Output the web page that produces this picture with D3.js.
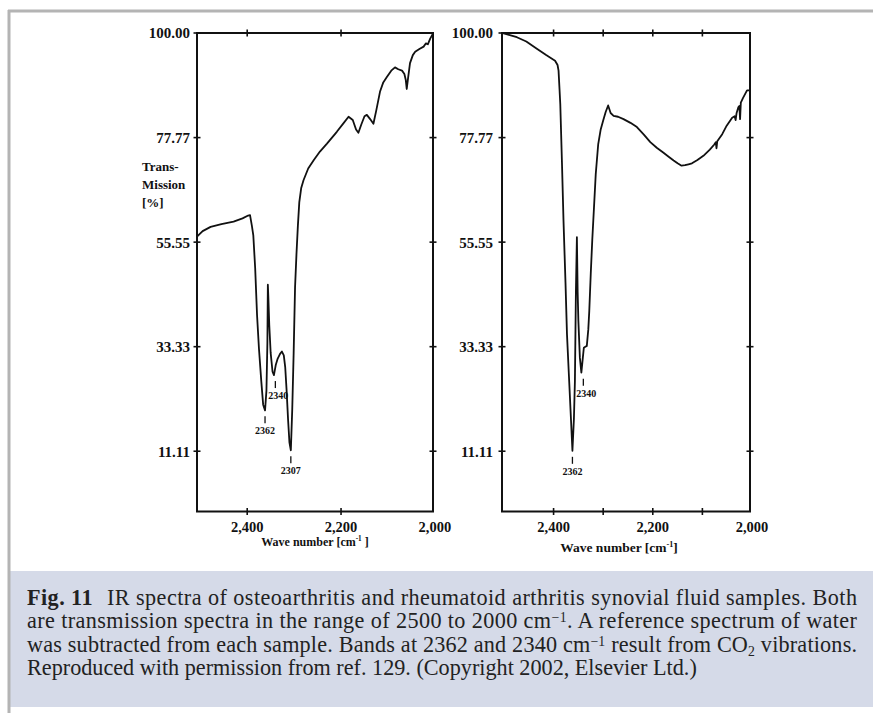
<!DOCTYPE html>
<html>
<head>
<meta charset="utf-8">
<script src="https://cdn.jsdelivr.net/npm/d3@7.9.0/dist/d3.min.js"></script>
<style>
  html, body { margin: 0; padding: 0; background: #fff; }
  svg { display: block; }
  .tick-label { font-family: "Liberation Serif", "Times New Roman", serif; font-weight: bold; fill: #111; }
</style>
</head>
<body>
<svg id="chart" width="873" height="713"></svg>
<script>
// left spectrum (osteoarthritis) - wave number / transmission %
const leftWave = [2507, 2495, 2478, 2455, 2429, 2410, 2398, 2394, 2390, 2387, 2383, 2379, 2375, 2370, 2366, 2362,
  2359, 2357, 2356, 2355, 2353, 2350, 2346, 2343, 2339, 2335, 2330, 2326, 2322, 2319, 2316, 2313, 2310, 2307,
  2304, 2301, 2298, 2295, 2292, 2289, 2285, 2280, 2270, 2258, 2245, 2230, 2209, 2195, 2184, 2175, 2168, 2163,
  2157, 2150, 2145, 2138, 2131, 2125, 2117, 2110, 2102, 2093, 2085, 2078, 2070, 2065, 2062, 2060, 2057, 2053,
  2047, 2042, 2033, 2024, 2019, 2015, 2010, 2005, 2004];
const leftTrans = [56.7, 57.9, 58.8, 59.4, 59.9, 60.6, 61.2, 61.3, 59, 57, 50, 40, 33, 26, 21, 19.8,
  24, 34, 46.5, 44, 38, 32, 28, 27.3, 29.5, 30.8, 31.8, 32.3, 31.5, 29, 24, 18, 13, 11.3,
  20, 32, 46, 53, 59, 64, 67, 68.7, 71.2, 73, 74.8, 76.5, 79, 80.8, 82.2, 81.5, 79.5, 78.8,
  80.5, 82.3, 82.6, 81.7, 80.7, 83.5, 87.5, 89.5, 90.7, 92, 92.7, 92.3, 92, 91.3, 90, 88.1, 90.5, 93.6,
  95.3, 96, 96.6, 97.1, 97.8, 97.6, 98.8, 99.7, 100];

// right spectrum (rheumatoid arthritis)
const rightWave = [2504, 2490, 2474, 2455, 2433, 2415, 2397, 2392, 2390, 2388, 2386.5, 2383, 2380, 2376, 2373,
  2369, 2365, 2362, 2359, 2357, 2355, 2353, 2351.5, 2350, 2347, 2344, 2341, 2339, 2336, 2333, 2330, 2328, 2325,
  2322, 2319, 2315, 2310, 2305, 2300, 2295, 2290, 2285, 2279, 2270, 2259, 2245, 2232, 2218, 2205, 2192, 2179,
  2168, 2158, 2150, 2142, 2135, 2128, 2121, 2110, 2098, 2085, 2076, 2073, 2071.5, 2070, 2060, 2051, 2040, 2035,
  2033, 2031, 2027.5, 2025.5, 2024, 2022.5, 2018, 2010, 2004];
const rightTrans = [100, 99.6, 99.1, 98.2, 96.6, 95.3, 94.1, 93.2, 92, 88, 84.9, 72, 60.1, 47, 36,
  27, 18, 11.2, 18, 26, 45, 56.6, 45, 38.8, 31, 27.8, 31, 33.1, 33.3, 33.5, 37, 41, 49,
  56, 62, 70, 76.4, 79.5, 81.4, 83.2, 84.6, 83, 82.4, 82.2, 81.7, 80.9, 80, 78.4, 76.8, 75.6, 74.6,
  73.7, 72.9, 72.3, 71.8, 71.9, 72.1, 72.3, 73, 73.9, 75.2, 76.3, 76.8, 75.5, 77, 78.5, 80.3, 82, 82.3,
  81.5, 83, 84.2, 84.5, 81.7, 85.2, 86.2, 87.8, 87.8];

const yTicks = [100, 77.77, 55.55, 33.33, 11.11];
const xLabelTicks = [2400, 2200, 2000];
const leftXTicks = [2400, 2200];
const rightXTicks = [2400, 2300, 2200, 2100];

const leftPeaks = [2362, 2340, 2307];
const rightPeaks = [2362, 2340];

const captionLines = [
  [{t: "Fig. 11", b: true}, {t: " IR spectra of osteoarthritis and rheumatoid arthritis synovial fluid samples. Both", dx: 8}],
  [{t: "are transmission spectra in the range of 2500 to 2000 cm"}, {t: "\u22121", sup: true}, {t: ". A reference spectrum of water"}],
  [{t: "was subtracted from each sample. Bands at 2362 and 2340 cm"}, {t: "\u22121", sup: true}, {t: " result from CO"}, {t: "2", sub: true}, {t: " vibrations."}],
  [{t: "Reproduced with permission from ref. 129. (Copyright 2002, Elsevier Ltd.)"}]
];

const svg = d3.select('#chart');

// page frame + caption box
svg.append('rect').attr('x', 10).attr('y', 571).attr('width', 863).attr('height', 136).attr('fill', '#d5dae8');
svg.append('line').attr('x1', 9).attr('x2', 9).attr('y1', 10).attr('y2', 713).attr('stroke', '#b4b4b4').attr('stroke-width', 3);
svg.append('line').attr('x1', 8).attr('x2', 873).attr('y1', 11).attr('y2', 11).attr('stroke', '#b4b4b4').attr('stroke-width', 3);

function drawPanel(opts) {
  const x = d3.scaleLinear().domain(opts.xDomain).range([opts.left, opts.right]);
  const y = d3.scaleLinear().domain([-1.7, 100]).range([opts.bottom, opts.top]);
  const g = svg.append('g');

  g.append('rect')
    .attr('x', opts.left).attr('y', opts.top)
    .attr('width', opts.right - opts.left).attr('height', opts.bottom - opts.top)
    .attr('fill', 'none').attr('stroke', '#111').attr('stroke-width', 2);

  // y ticks on both sides, crossing the frame
  [opts.left, opts.right].forEach((ax, i) => {
    g.selectAll(null)
      .data(i === 0 ? yTicks : yTicks.slice(1))
      .enter().append('line')
      .attr('x1', ax - 3.5).attr('x2', ax + 3.5)
      .attr('y1', d => y(d)).attr('y2', d => y(d))
      .attr('stroke', '#111').attr('stroke-width', 1.6);
  });
  g.selectAll(null)
    .data(yTicks)
    .enter().append('text')
    .attr('class', 'tick-label')
    .attr('x', opts.left - opts.labelGap)
    .attr('y', d => y(d))
    .attr('dy', '0.36em')
    .attr('text-anchor', 'end')
    .attr('font-size', 15)
    .text(d => d3.format('.2f')(d));

  // x ticks on top and bottom
  [opts.top, opts.bottom].forEach(ay => {
    g.selectAll(null)
      .data(opts.xTicks)
      .enter().append('line')
      .attr('x1', d => x(d)).attr('x2', d => x(d))
      .attr('y1', ay - 3.5).attr('y2', ay + 3.5)
      .attr('stroke', '#111').attr('stroke-width', 1.6);
  });
  g.selectAll(null)
    .data(xLabelTicks)
    .enter().append('text')
    .attr('class', 'tick-label')
    .attr('x', d => x(d))
    .attr('y', opts.bottom + 20)
    .attr('text-anchor', 'middle')
    .attr('font-size', 14.5)
    .text(d => d3.format(',')(d));

  // axis title
  const title = g.append('text')
    .attr('class', 'tick-label')
    .attr('x', opts.titleX)
    .attr('y', opts.titleY)
    .attr('text-anchor', 'middle')
    .attr('font-size', opts.titleSize);
  title.append('tspan').text('Wave number [cm');
  title.append('tspan').attr('dy', -5).attr('font-size', opts.titleSize * 0.6).text('-1');
  title.append('tspan').attr('dy', 5).text(opts.titleEnd);

  // spectrum
  const pts = d3.zip(opts.wave, opts.trans);
  const line = d3.line().x(d => x(d[0])).y(d => y(d[1]));
  g.append('path')
    .datum(pts)
    .attr('d', line)
    .attr('fill', 'none')
    .attr('stroke', '#111')
    .attr('stroke-width', 1.8)
    .attr('stroke-linejoin', 'round');

  // peak markers: sit below the lowest point near each band
  const peakVal = w => d3.min(pts.filter(p => Math.abs(p[0] - w) <= 6), p => p[1]);
  g.selectAll(null)
    .data(opts.peaks)
    .enter().append('line')
    .attr('x1', d => x(d)).attr('x2', d => x(d))
    .attr('y1', d => y(peakVal(d)) + 6).attr('y2', d => y(peakVal(d)) + 13)
    .attr('stroke', '#111').attr('stroke-width', 1.3);
  g.selectAll(null)
    .data(opts.peaks)
    .enter().append('text')
    .attr('class', 'tick-label')
    .attr('x', d => x(d) + (d === 2340 ? 3 : 0))
    .attr('y', d => y(peakVal(d)) + 24)
    .attr('text-anchor', 'middle')
    .attr('font-size', 10)
    .text(d => d);
}

drawPanel({
  left: 197, right: 433, top: 33, bottom: 511.5,
  xDomain: [2507, 2004], xTicks: leftXTicks,
  wave: leftWave, trans: leftTrans, peaks: leftPeaks,
  labelGap: 7, titleX: 315, titleY: 546, titleSize: 12, titleEnd: ' ]'
});

drawPanel({
  left: 502, right: 750, top: 33, bottom: 511.5,
  xDomain: [2504, 2004], xTicks: rightXTicks,
  wave: rightWave, trans: rightTrans, peaks: rightPeaks,
  labelGap: 9, titleX: 619, titleY: 552, titleSize: 13.5, titleEnd: ']'
});

// y axis label of left panel
const yLab = svg.append('text')
  .attr('class', 'tick-label')
  .attr('x', 142).attr('y', 171)
  .attr('font-size', 13);
['Trans-', 'Mission', '[%]'].forEach((s, i) => {
  yLab.append('tspan').attr('x', 142).attr('dy', i === 0 ? 0 : 18).text(s);
});

// caption
const capX = 27, capW = 830, lastW = 670, capY0 = 604.5, capStep = 23.6;
const capFont = '"Liberation Serif", "Times New Roman", serif';

function buildLine(segs, i, size) {
  const t = svg.append('text')
    .attr('x', capX)
    .attr('y', capY0 + i * capStep)
    .attr('font-family', capFont)
    .attr('font-size', size)
    .attr('fill', '#222');
  let shift = 0;
  segs.forEach(s => {
    const sp = t.append('tspan').text(s.t);
    let dy = -shift;
    shift = 0;
    if (s.b) sp.attr('font-weight', 'bold');
    if (s.dx) sp.attr('dx', s.dx);
    if (s.sup) { dy += -6; shift = -6; sp.attr('font-size', size * 0.62); }
    if (s.sub) { dy += 4; shift = 4; sp.attr('font-size', size * 0.62); }
    if (dy) sp.attr('dy', dy);
  });
  return t;
}

// pick a font size so the unjustified last line has the reference width
const probe = buildLine(captionLines[3], 3, 18);
const capSize = 18 * lastW / probe.node().getComputedTextLength();
probe.remove();

captionLines.forEach((segs, i) => {
  const t = buildLine(segs, i, capSize);
  if (i < captionLines.length - 1) {
    const natural = t.node().getComputedTextLength();
    t.attr('textLength', capW)
     .attr('lengthAdjust', natural < capW ? 'spacing' : 'spacingAndGlyphs');
  }
});
</script>
</body>
</html>
